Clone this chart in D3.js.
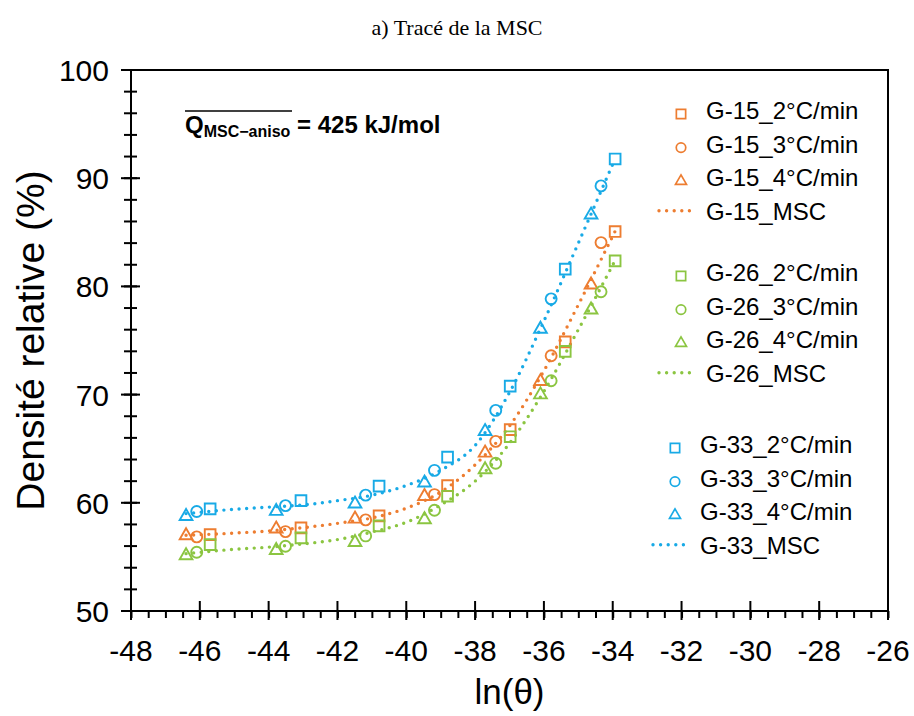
<!DOCTYPE html>
<html>
<head>
<meta charset="utf-8">
<script src="https://cdn.jsdelivr.net/npm/d3@7"></script>
<style>
  body { margin: 0; background: #fff; }
  svg { display: block; font-family: "Liberation Sans", Arial, sans-serif; }
</style>
</head>
<body>
<div id="chart"></div>
<script>
"use strict";

// ln(theta) positions, one array per heating rate
const lnTheta2 = [-45.70, -43.06, -40.79, -38.80, -36.98, -35.38, -33.93];
const lnTheta3 = [-46.09, -43.51, -41.18, -39.18, -37.40, -35.79, -34.34];
const lnTheta4 = [-46.40, -43.78, -41.49, -39.47, -37.71, -36.10, -34.63];

// relative density (%)
const g15_2 = [57.06, 57.68, 58.79, 61.59, 66.76, 74.87, 85.07];
const g15_3 = [56.85, 57.34, 58.42, 60.76, 65.68, 73.59, 84.05];
const g15_4 = [56.97, 57.59, 58.51, 60.60, 64.61, 71.22, 80.15];
const g26_2 = [56.14, 56.76, 57.87, 60.61, 66.11, 73.99, 82.36];
const g26_3 = [55.43, 55.98, 56.94, 59.31, 63.65, 71.28, 79.50];
const g26_4 = [55.12, 55.61, 56.35, 58.45, 63.07, 69.99, 77.84];
const g33_2 = [59.44, 60.20, 61.54, 64.22, 70.78, 81.60, 91.78];
const g33_3 = [59.19, 59.74, 60.71, 63.00, 68.54, 78.85, 89.29];
const g33_4 = [58.75, 59.22, 59.90, 61.84, 66.60, 76.06, 86.61];

// master sintering curves
const mscX = [-46.4, -45, -44, -43, -42, -41, -40, -39, -38, -37, -36, -35, -33.93];
const g15_msc = [57.0, 57.2, 57.4, 57.7, 58.1, 58.6, 59.5, 61.0, 63.5, 67.1, 72.2, 78.3, 85.1];
const g26_msc = [55.3, 55.7, 55.9, 56.2, 56.6, 57.3, 58.2, 59.8, 62.0, 65.5, 70.3, 76.0, 82.4];
const g33_msc = [59.0, 59.4, 59.6, 59.8, 60.2, 60.7, 61.6, 63.0, 65.3, 70.2, 76.8, 84.0, 91.8];

const xTicks = [-48, -46, -44, -42, -40, -38, -36, -34, -32, -30, -28, -26];
const yTicks = [50, 60, 70, 80, 90, 100];

const groups = [
  { name: "G-15", color: "#ED7D31", rates: [g15_2, g15_3, g15_4], msc: g15_msc },
  { name: "G-26", color: "#8BC541", rates: [g26_2, g26_3, g26_4], msc: g26_msc },
  { name: "G-33", color: "#18AAE6", rates: [g33_2, g33_3, g33_4], msc: g33_msc }
];
const rateLabels = ["2°C/min", "3°C/min", "4°C/min"];
const rateX = [lnTheta2, lnTheta3, lnTheta4];
const shapes = [d3.symbolSquare, d3.symbolCircle, d3.symbolTriangle];

const W = 914, H = 716;
const plotL = 131, plotR = 888, plotT = 70, plotB = 611;

const x = d3.scaleLinear().domain([-48, -26]).range([plotL, plotR]);
const y = d3.scaleLinear().domain([50, 100]).range([plotB, plotT]);

const svg = d3.select("#chart").append("svg")
  .attr("width", W)
  .attr("height", H);

// title
svg.append("text")
  .attr("x", 457).attr("y", 35)
  .attr("text-anchor", "middle")
  .style("font-family", "'Liberation Serif', 'Times New Roman', serif")
  .style("font-size", "22px")
  .text("a) Tracé de la MSC");

// frame
svg.append("path")
  .attr("d", `M${plotL},${plotT}H${plotR}V${plotB}`)
  .attr("fill", "none")
  .attr("stroke", "#000")
  .attr("stroke-width", 2);

// x axis
const xAxis = svg.append("g").attr("transform", `translate(0,${plotB})`);
xAxis.call(d3.axisBottom(x).tickValues(d3.range(-48, -25.9, 0.5)).tickSize(7).tickFormat(""));
xAxis.call(g => g.select(".domain").remove());
xAxis.append("line")
  .attr("x1", plotL).attr("x2", plotR)
  .attr("stroke", "#000").attr("stroke-width", 2);
xAxis.selectAll(".tick line").attr("stroke-width", 2);
const xMajor = svg.append("g").attr("transform", `translate(0,${plotB})`);
xMajor.selectAll("line").data(xTicks).enter().append("line")
  .attr("x1", d => x(d)).attr("x2", d => x(d))
  .attr("y1", -10).attr("y2", 9)
  .attr("stroke", "#000").attr("stroke-width", 2);
xMajor.selectAll("text").data(xTicks).enter().append("text")
  .attr("x", d => x(d)).attr("y", 50)
  .attr("text-anchor", "middle")
  .style("font-size", "30px")
  .text(d => d);

// y axis
const yAxis = svg.append("g").attr("transform", `translate(${plotL},0)`);
yAxis.append("line")
  .attr("y1", plotT).attr("y2", plotB)
  .attr("stroke", "#000").attr("stroke-width", 2);
yAxis.selectAll("line.minor").data(d3.range(50, 100.1, 2)).enter().append("line")
  .attr("class", "minor")
  .attr("x1", -7).attr("x2", 6)
  .attr("y1", d => y(d)).attr("y2", d => y(d))
  .attr("stroke", "#000").attr("stroke-width", 2);
yAxis.selectAll("line.major").data(yTicks).enter().append("line")
  .attr("class", "major")
  .attr("x1", -10).attr("x2", 9)
  .attr("y1", d => y(d)).attr("y2", d => y(d))
  .attr("stroke", "#000").attr("stroke-width", 2);
yAxis.selectAll("text").data(yTicks).enter().append("text")
  .attr("x", -22).attr("y", d => y(d) + 11)
  .attr("text-anchor", "end")
  .style("font-size", "30px")
  .text(d => d);

// axis titles
svg.append("text")
  .attr("transform", `translate(44,${(plotT + plotB) / 2}) rotate(-90)`)
  .attr("text-anchor", "middle")
  .style("font-size", "39px")
  .text("Densité relative (%)");
svg.append("text")
  .attr("x", (plotL + plotR) / 2).attr("y", 704)
  .attr("text-anchor", "middle")
  .style("font-size", "35px")
  .text("ln(θ)");

// annotation
const ann = svg.append("text")
  .attr("x", 185).attr("y", 133)
  .style("font-weight", "bold")
  .style("font-size", "24px");
ann.append("tspan").text("Q");
ann.append("tspan").attr("dy", 4).style("font-size", "16px").text("MSC−aniso");
ann.append("tspan").attr("dy", -4).text(" = 425 kJ/mol");
svg.append("line")
  .attr("x1", 185).attr("x2", 292)
  .attr("y1", 111).attr("y2", 111)
  .attr("stroke", "#000").attr("stroke-width", 1.5);

// curves
const line = d3.line()
  .x(d => x(d[0]))
  .y(d => y(d[1]))
  .curve(d3.curveMonotoneX);

groups.forEach(gr => {
  svg.append("path")
    .datum(mscX.map((v, i) => [v, gr.msc[i]]))
    .attr("d", line)
    .attr("fill", "none")
    .attr("stroke", gr.color)
    .attr("stroke-width", 3.4)
    .attr("stroke-linecap", "round")
    .attr("stroke-dasharray", "0 7.6");
});

// markers
const symSizes = [115, 95, 70];
groups.forEach(gr => {
  gr.rates.forEach((vals, r) => {
    svg.append("g").selectAll("path")
      .data(vals.map((v, i) => [rateX[r][i], v]))
      .enter().append("path")
      .attr("transform", d => `translate(${x(d[0])},${y(d[1])})`)
      .attr("d", d3.symbol().type(shapes[r]).size(symSizes[r]))
      .attr("fill", "none")
      .attr("stroke", gr.color)
      .attr("stroke-width", 1.9);
  });
});

// legend
const legendTops = [110, 272, 444];
const legendMarkX = [681, 681, 675];
const rowGap = 33.6;
groups.forEach((gr, gi) => {
  const lg = svg.append("g");
  const mx = legendMarkX[gi];
  rateLabels.forEach((lab, r) => {
    const cy = legendTops[gi] + r * rowGap;
    lg.append("path")
      .attr("transform", `translate(${mx},${cy + 4})`)
      .attr("d", d3.symbol().type(shapes[r]).size(symSizes[r] * 0.75))
      .attr("fill", "none")
      .attr("stroke", gr.color)
      .attr("stroke-width", 1.7);
    lg.append("text")
      .attr("x", mx + 25).attr("y", cy + 9)
      .style("font-size", "24px")
      .text(`${gr.name}_${lab}`);
  });
  const cy = legendTops[gi] + 3 * rowGap;
  lg.append("line")
    .attr("x1", mx - 22).attr("x2", mx + 13)
    .attr("y1", cy).attr("y2", cy)
    .attr("stroke", gr.color)
    .attr("stroke-width", 3.4)
    .attr("stroke-linecap", "round")
    .attr("stroke-dasharray", "0 7.6");
  lg.append("text")
    .attr("x", mx + 25).attr("y", cy + 9)
    .style("font-size", "24px")
    .text(`${gr.name}_MSC`);
});
</script>
</body>
</html>
